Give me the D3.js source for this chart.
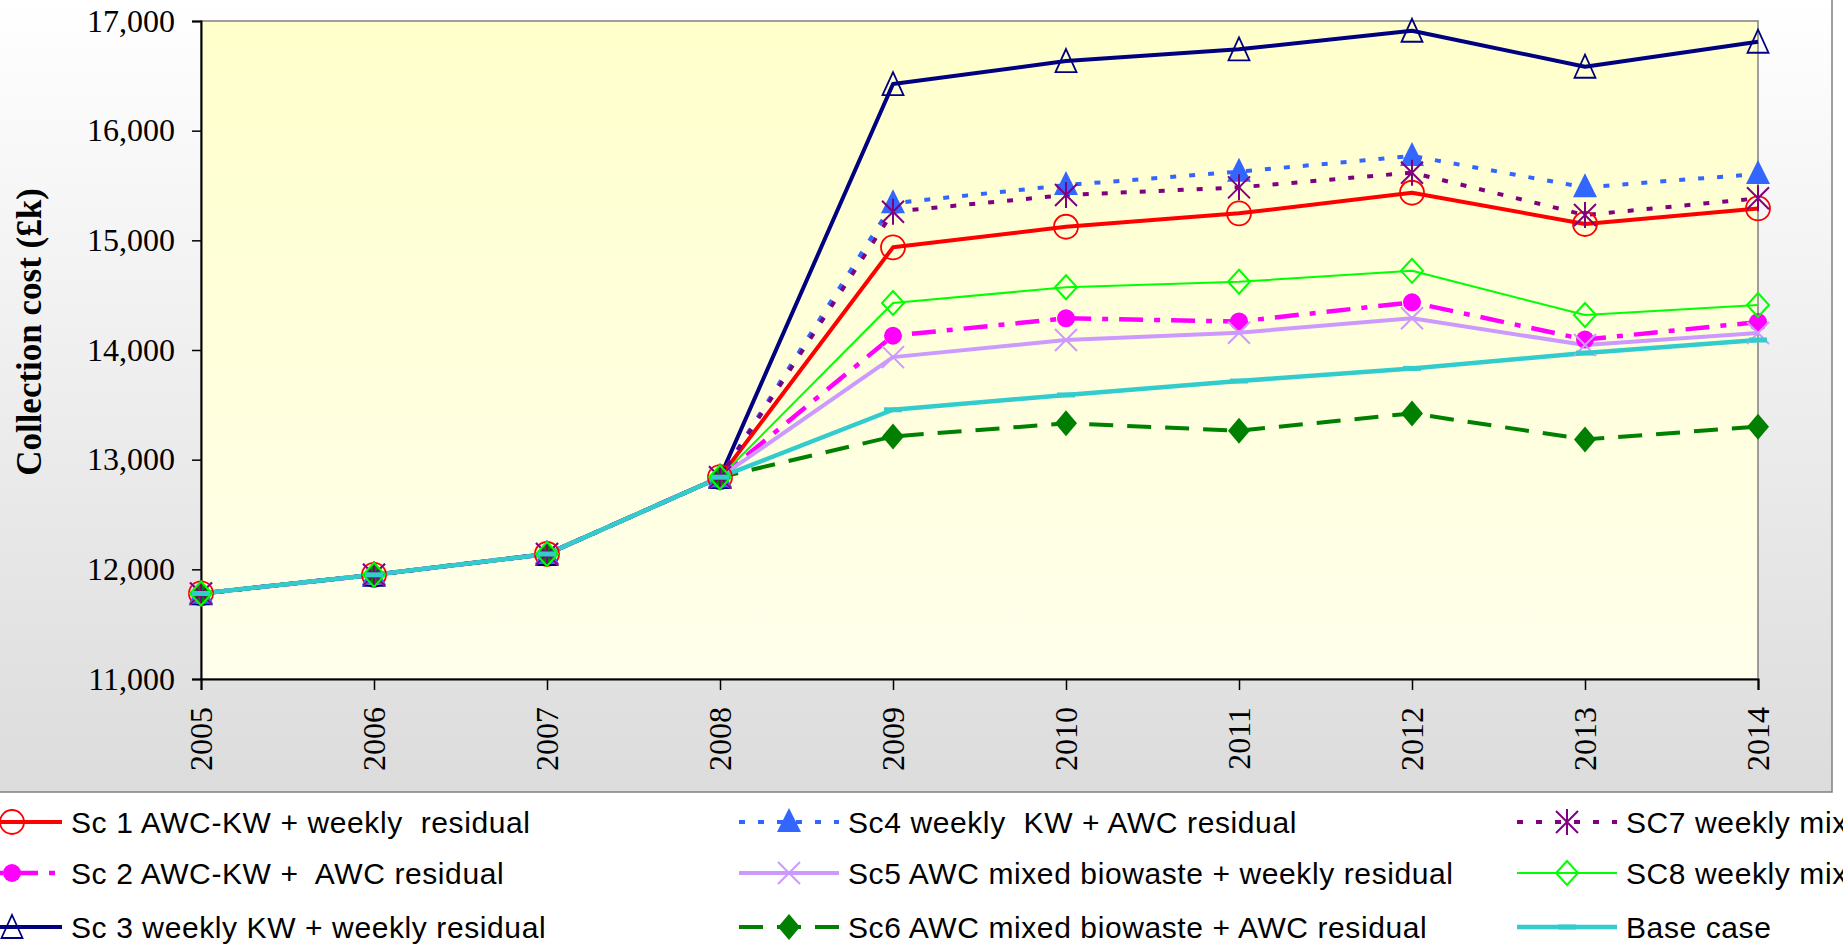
<!DOCTYPE html>
<html>
<head>
<meta charset="utf-8">
<script src="https://cdn.jsdelivr.net/npm/d3@7"></script>
<style>
  html, body { margin: 0; padding: 0; background: #ffffff; overflow: hidden; }
  svg { display: block; }
</style>
</head>
<body>
<div id="chart-area"></div>
<script>
// values (collection cost, £k)
var years = [2005, 2006, 2007, 2008, 2009, 2010, 2011, 2012, 2013, 2014];
var sc1  = [11780, 11950, 12140, 12840, 14936, 15124, 15246, 15434, 15149, 15291];
var sc2  = [11780, 11950, 12140, 12840, 14130, 14289, 14260, 14435, 14095, 14255];
var sc3  = [11780, 11950, 12140, 12840, 16425, 16635, 16742, 16911, 16583, 16811];
var sc4  = [11780, 11950, 12140, 12840, 15338, 15504, 15626, 15769, 15483, 15605];
var sc5  = [11780, 11950, 12140, 12840, 13935, 14091, 14158, 14289, 14045, 14155];
var sc6  = [11780, 11950, 12140, 12840, 13212, 13331, 13264, 13422, 13185, 13301];
var sc7  = [11780, 11950, 12140, 12840, 15261, 15413, 15483, 15617, 15231, 15383];
var sc8  = [11780, 11950, 12140, 12840, 14429, 14572, 14622, 14722, 14319, 14410];
var base = [11780, 11950, 12140, 12840, 13455, 13590, 13717, 13832, 13972, 14091];

var names = [
    "Sc 1 AWC-KW + weekly  residual",
    "Sc 2 AWC-KW +  AWC residual",
    "Sc 3 weekly KW + weekly residual",
    "Sc4 weekly  KW + AWC residual",
    "Sc5 AWC mixed biowaste + weekly residual",
    "Sc6 AWC mixed biowaste + AWC residual",
    "SC7 weekly mixed biowaste + weekly residual",
    "SC8 weekly mixed biowaste + AWC residual",
    "Base case"
];
var yTicks = [11000, 12000, 13000, 14000, 15000, 16000, 17000];

// styles per series (same order as names)
var styles = [
    { color: "#FF0000", width: 4,   dash: null,          marker: "circleOpen" },
    { color: "#FF00FF", width: 4.5, dash: "24,11,6,11",  marker: "circleFill" },
    { color: "#000080", width: 4,   dash: null,          marker: "triOpen" },
    { color: "#3366FF", width: 4,   dash: "6,13",        marker: "triFill" },
    { color: "#CC99FF", width: 4,   dash: null,          marker: "cross" },
    { color: "#008000", width: 4,   dash: "24,14",       marker: "diaFill" },
    { color: "#800080", width: 4,   dash: "6,13",        marker: "star" },
    { color: "#00FF00", width: 2,   dash: null,          marker: "diaOpen" },
    { color: "#33CCCC", width: 4.5, dash: null,          marker: "bar" }
];
var series = [sc1, sc2, sc3, sc4, sc5, sc6, sc7, sc8, base];

var W = 1843, H = 947;
var plot = { left: 201, right: 1758, top: 21, bottom: 679 };

var svg = d3.select("#chart-area").append("svg")
    .attr("width", W)
    .attr("height", H);

var defs = svg.append("defs");
var gOuter = defs.append("linearGradient").attr("id", "outerGrad")
    .attr("x1", 0).attr("y1", 0).attr("x2", 0).attr("y2", 1);
gOuter.append("stop").attr("offset", "0%").attr("stop-color", "#ffffff");
gOuter.append("stop").attr("offset", "100%").attr("stop-color", "#dcdcdc");
var gPlot = defs.append("linearGradient").attr("id", "plotGrad")
    .attr("x1", 0).attr("y1", 0).attr("x2", 0).attr("y2", 1);
gPlot.append("stop").attr("offset", "0%").attr("stop-color", "#ffffcc");
gPlot.append("stop").attr("offset", "100%").attr("stop-color", "#ffffec");
defs.append("clipPath").attr("id", "pageClip")
    .append("rect").attr("width", W).attr("height", H);

// chart area
svg.append("rect")
    .attr("x", -5).attr("y", -5)
    .attr("width", 1837).attr("height", 797)
    .attr("fill", "url(#outerGrad)")
    .attr("stroke", "#808080")
    .attr("stroke-width", 1.5);

// plot area
svg.append("rect")
    .attr("x", plot.left).attr("y", plot.top)
    .attr("width", plot.right - plot.left).attr("height", plot.bottom - plot.top)
    .attr("fill", "url(#plotGrad)")
    .attr("stroke", "#808080")
    .attr("stroke-width", 1.5);

var x = d3.scalePoint().domain(years).range([plot.left, plot.right]);
var y = d3.scaleLinear().domain([11000, 17000]).range([plot.bottom, plot.top]);

// Y axis
var leftAxis = d3.axisLeft(y).tickValues(yTicks).tickFormat(d3.format(",")).tickSize(9).tickPadding(17);
var yAxisG = svg.append("g")
    .attr("transform", "translate(" + plot.left + ",0)")
    .call(leftAxis);
yAxisG.select(".domain").attr("stroke", "#000").attr("stroke-width", 2);
yAxisG.selectAll(".tick line").attr("stroke", "#000").attr("stroke-width", 1.5);
yAxisG.selectAll(".tick text")
    .attr("font-family", "'Liberation Serif', 'Times New Roman', serif")
    .attr("font-size", "32px")
    .attr("fill", "#000");

// X axis
var bottomAxis = d3.axisBottom(x).tickSize(11).tickFormat(d3.format("d"));
var xAxisG = svg.append("g")
    .attr("transform", "translate(0," + plot.bottom + ")")
    .call(bottomAxis);
xAxisG.select(".domain").attr("stroke", "#000").attr("stroke-width", 2);
xAxisG.selectAll(".tick line").attr("stroke", "#000").attr("stroke-width", 1.5);
xAxisG.selectAll(".tick text")
    .attr("font-family", "'Liberation Serif', 'Times New Roman', serif")
    .attr("font-size", "32px")
    .attr("fill", "#000")
    .attr("text-anchor", "end")
    .attr("y", 0).attr("x", 0)
    .attr("dy", "0.33em")
    .attr("transform", "translate(0,28) rotate(-90)");

// Y label
svg.append("text")
    .attr("transform", "translate(41,332) rotate(-90)")
    .attr("text-anchor", "middle")
    .attr("font-family", "'Liberation Serif', 'Times New Roman', serif")
    .attr("font-weight", "bold")
    .attr("font-size", "35px")
    .attr("fill", "#000")
    .text("Collection cost (£k)");

// marker shapes
function markerPath(type) {
    switch (type) {
        case "circleOpen": return d3.symbol().type(d3.symbolCircle).size(Math.PI * 144)();
        case "circleFill": return d3.symbol().type(d3.symbolCircle).size(Math.PI * 81)();
        case "triOpen":    return "M0,-12L10.5,11L-10.5,11Z";
        case "triFill":    return "M0,-14L12,10L-12,10Z";
        case "cross":      return "M-11,-11L11,11M-11,11L11,-11";
        case "star":       return "M-11,-11L11,11M-11,11L11,-11M0,-13L0,13";
        case "diaFill":    return "M0,-13L11,0L0,13L-11,0Z";
        case "diaOpen":    return "M0,-12L11,0L0,12L-11,0Z";
        case "bar":        return "M-9,0L9,0";
    }
}
function styleMarker(sel, st) {
    var filled = (st.marker === "circleFill" || st.marker === "triFill" || st.marker === "diaFill");
    var lineOnly = (st.marker === "cross" || st.marker === "star");
    sel.attr("d", markerPath(st.marker))
        .attr("fill", filled ? st.color : "none")
        .attr("stroke", filled ? "none" : st.color)
        .attr("stroke-width", st.marker === "bar" ? 5 : (lineOnly || st.marker === "diaOpen" ? 2 : 1.8));
}

var line = d3.line()
    .x(function(d, i) { return x(years[i]); })
    .y(function(d) { return y(d); });

var linesG = svg.append("g");
series.forEach(function(vals, s) {
    var st = styles[s];
    linesG.append("path")
        .datum(vals)
        .attr("d", line)
        .attr("fill", "none")
        .attr("stroke", st.color)
        .attr("stroke-width", st.width)
        .attr("stroke-dasharray", st.dash)
        .attr("stroke-linejoin", "round");
});

var markersG = svg.append("g");
series.forEach(function(vals, s) {
    var st = styles[s];
    markersG.selectAll(".m" + s)
        .data(vals)
        .enter().append("path")
        .attr("class", "m" + s)
        .attr("transform", function(d, i) { return "translate(" + x(years[i]) + "," + y(d) + ")"; })
        .call(styleMarker, st);
});

// Legend (3 columns x 3 rows, wider than the page as in the original)
var legend = svg.append("g").attr("clip-path", "url(#pageClip)");
var colX = [12, 789, 1567];
var rowY = [822, 873, 927];
names.forEach(function(name, i) {
    var col = Math.floor(i / 3), row = i % 3;
    var st = styles[i];
    var item = legend.append("g")
        .attr("transform", "translate(" + colX[col] + "," + rowY[row] + ")");
    item.append("path")
        .attr("d", "M-50,0L50,0")
        .attr("stroke", st.color)
        .attr("stroke-width", st.width)
        .attr("stroke-dasharray", st.dash);
    item.append("path").call(styleMarker, st);
    item.append("text")
        .attr("x", 59)
        .attr("y", 0)
        .attr("dy", "0.36em")
        .attr("font-family", "'Liberation Sans', Arial, sans-serif")
        .attr("font-size", "30px")
        .attr("letter-spacing", "0.6px")
        .style("white-space", "pre")
        .attr("fill", "#000")
        .text(name);
});
</script>
</body>
</html>
